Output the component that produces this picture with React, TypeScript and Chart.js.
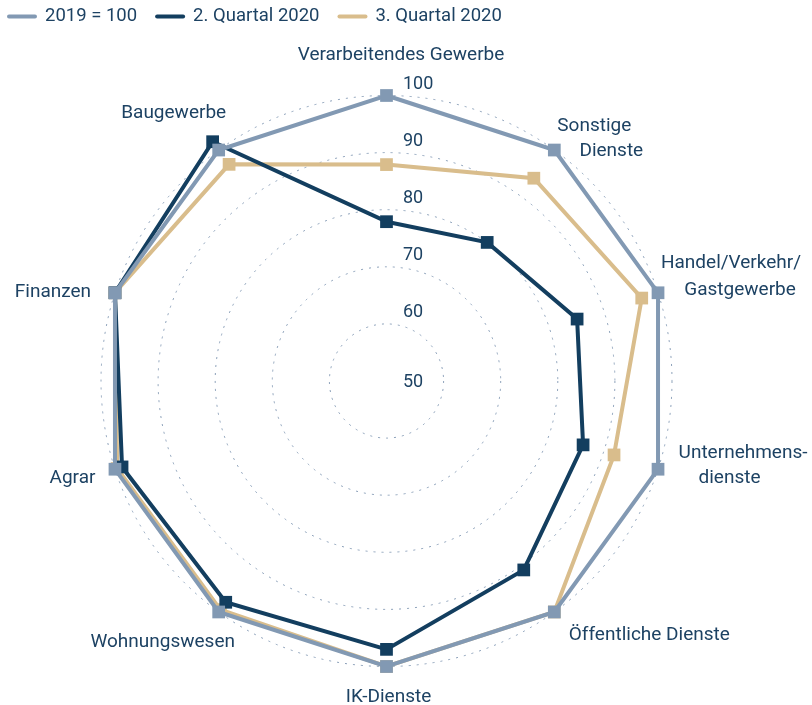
import React, { useEffect, useRef } from "react";
import { Chart, registerables } from "chart.js";

Chart.register(...registerables);

// ---- data ----
const CATEGORIES: (string | string[])[] = [
  "Verarbeitendes Gewerbe",
  ["Sonstige", "Dienste"],
  ["Handel/Verkehr/", "Gastgewerbe"],
  ["Unternehmens-", "dienste"],
  "Öffentliche Dienste",
  "IK-Dienste",
  "Wohnungswesen",
  "Agrar",
  "Finanzen",
  "Baugewerbe",
];
const SERIES_NAMES = ["2019 = 100", "2. Quartal 2020", "3. Quartal 2020"];
const BASE_2019 = [100, 100, 100, 100, 100, 100, 100, 100, 100, 100];
const Q2_2020 = [77.9, 80.0, 85.1, 86.2, 90.9, 97.0, 97.9, 98.7, 100, 101.8];
const Q3_2020 = [87.9, 93.9, 97.0, 91.9, 100, 100, 99.5, 99.6, 100, 96.9];
const TICK_MIN = 50;
const TICK_MAX = 100;
const TICK_STEP = 10;

// ---- styles / layout ----
const GRAY = "#8299b3";
const NAVY = "#133e5f";
const TAN = "#d9bd8c";
const TEXT = "#1d4263";
const GRID = "#8a9fb8";
const FONT = "Roboto";

// offsets (px) of each label line relative to the axis end point
const LABEL_OFFSETS: [number, number][][] = [
  [[14.5, -40.5]],
  [[40, -24], [57, 1]],
  [[73, -30], [82, -3]],
  [[85, -16], [71.5, 9]],
  [[95, 23]],
  [[2, 30.5]],
  [[-56, 30]],
  [[-42.5, 9]],
  [[-62, -1]],
  [[-45, -37]],
];

const overlayPlugin = {
  id: "overlay",
  afterDraw(chart: any) {
    const ctx: CanvasRenderingContext2D = chart.ctx;
    const r = chart.scales.r;
    ctx.save();
    ctx.fillStyle = TEXT;
    ctx.textBaseline = "middle";

    // tick labels
    ctx.font = `18px ${FONT}`;
    ctx.textAlign = "left";
    r.ticks.forEach((t: any) => {
      const d = r.getDistanceFromCenterForValue(t.value);
      const y = d < 1 ? r.yCenter + 1 : r.yCenter - d - 11;
      ctx.fillText(String(t.label), r.xCenter + 16.5, y);
    });

    // point labels
    ctx.font = `19px ${FONT}`;
    ctx.textAlign = "center";
    (chart.data.labels as (string | string[])[]).forEach((lab, i) => {
      const p = r.getPointPosition(i, r.drawingArea);
      const lines = Array.isArray(lab) ? lab : [lab];
      lines.forEach((line, j) => {
        const [dx, dy] = LABEL_OFFSETS[i][j];
        ctx.fillText(line, p.x + dx, p.y + dy);
      });
    });

    // legend
    ctx.font = `18.5px ${FONT}`;
    ctx.textAlign = "left";
    let x = 7;
    const yMid = 16.5;
    chart.data.datasets.forEach((ds: any) => {
      ctx.strokeStyle = ds.borderColor;
      ctx.lineWidth = 4;
      ctx.lineCap = "round";
      ctx.beginPath();
      ctx.moveTo(x + 2, yMid);
      ctx.lineTo(x + 28, yMid);
      ctx.stroke();
      const tx = x + 38;
      ctx.fillStyle = TEXT;
      ctx.fillText(ds.label, tx, yMid - 0.5);
      x = tx + ctx.measureText(ds.label).width + 18;
    });
    ctx.restore();
  },
};

function makeDataset(label: string, data: number[], color: string) {
  return {
    label,
    data,
    borderColor: color,
    backgroundColor: color,
    pointBackgroundColor: color,
    pointBorderColor: color,
    pointBorderWidth: 0,
    pointStyle: "rect",
    pointRadius: 9,
    pointHoverRadius: 9,
    borderWidth: 4,
    fill: false,
    tension: 0,
  };
}

export default function App() {
  const ref = useRef<HTMLCanvasElement>(null);
  useEffect(() => {
    if (!ref.current) return;
    const chart = new Chart(ref.current, {
      type: "radar",
      data: {
        labels: CATEGORIES as any,
        datasets: [
          makeDataset(SERIES_NAMES[0], BASE_2019, GRAY),
          makeDataset(SERIES_NAMES[1], Q2_2020, NAVY),
          makeDataset(SERIES_NAMES[2], Q3_2020, TAN),
        ] as any,
      },
      options: {
        responsive: false,
        devicePixelRatio: 1,
        animation: false,
        events: [],
        layout: { padding: 0 },
        plugins: {
          legend: { display: false },
          tooltip: { enabled: false },
        },
        scales: {
          r: {
            min: TICK_MIN,
            max: TICK_MAX,
            ticks: { stepSize: TICK_STEP, display: false },
            grid: { circular: true, color: GRID, lineWidth: 1 },
            border: { dash: [2, 6] },
            angleLines: { display: false },
            pointLabels: { display: false },
            afterFit: (s: any) => {
              s.xCenter = 386.5;
              s.yCenter = 381;
              s.drawingArea = 285.5;
            },
          } as any,
        },
      },
      plugins: [overlayPlugin],
    });
    return () => chart.destroy();
  }, []);
  return (
    <canvas
      ref={ref}
      width={812}
      height={705}
      style={{ position: "fixed", left: 0, top: 0, display: "block" }}
    />
  );
}
